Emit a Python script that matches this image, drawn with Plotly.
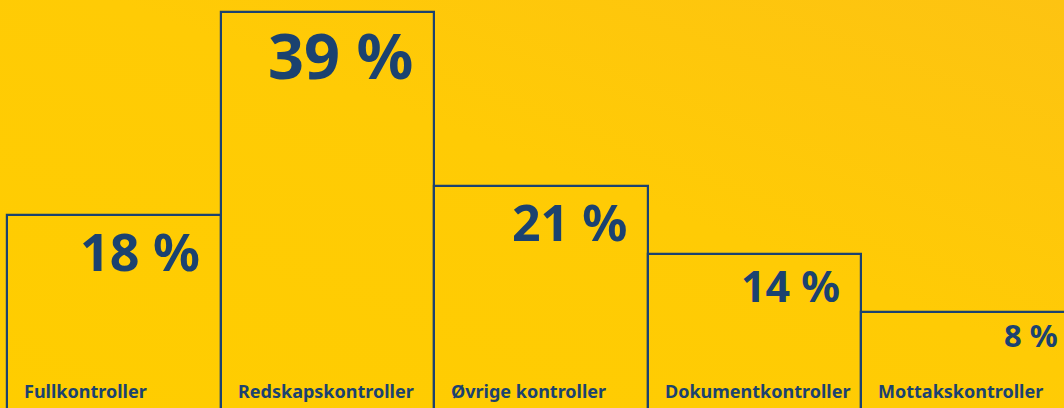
import plotly.graph_objects as go
import numpy as np

# data
categories = ["Fullkontroller", "Redskapskontroller", "Øvrige kontroller",
              "Dokumentkontroller", "Mottakskontroller"]
shares = [18, 39, 21, 14, 8]
value_labels = [f"{v} %" for v in shares]

# style
navy = "#1b4270"
pct_sizes = [52, 63, 50, 43, 31]
pct_pad = [-19, -19, -19, -19, -15]
pct_drop = [2, 2, 0, 0, 0]
bar_base = -4
x_range = [-0.533, 4.45]
y_range = [-1.96, 40.2]

bg_svg = (
    "data:image/svg+xml;utf8,"
    "<svg xmlns='http://www.w3.org/2000/svg' width='1064' height='408'>"
    "<defs><linearGradient id='g' x1='0' y1='1' x2='1' y2='0'>"
    "<stop offset='0' stop-color='%23FFCD00'/>"
    "<stop offset='0.55' stop-color='%23FFCB05'/>"
    "<stop offset='1' stop-color='%23FDC312'/>"
    "</linearGradient></defs>"
    "<rect width='1064' height='408' fill='url(%23g)'/></svg>"
)

x = np.arange(len(categories))
fig = go.Figure()
fig.add_trace(go.Bar(
    x=x, y=np.array(shares) - bar_base, base=bar_base,
    width=1,
    marker=dict(color="rgba(0,0,0,0)", line=dict(color=navy, width=2.2)),
    hoverinfo="skip",
    showlegend=False,
))

px_per_unit = 1064 / (x_range[1] - x_range[0])
for i, (v, txt, cat) in enumerate(zip(shares, value_labels, categories)):
    # bar right edge may lie outside the visible range (last bar)
    right = i + 0.5
    xa = min(right, x_range[1])
    extra = (right - xa) * px_per_unit
    fig.add_annotation(
        x=xa, y=v, xref="x", yref="y",
        text=f"<b>{txt}</b>", showarrow=False,
        xanchor="right", yanchor="top",
        xshift=pct_pad[i] + extra, yshift=pct_drop[i],
        font=dict(family="Noto Sans", size=pct_sizes[i], color=navy),
    )
    fig.add_annotation(
        x=i - 0.5, y=-0.2, xref="x", yref="y",
        text=f"<b>{cat}</b>", showarrow=False,
        xanchor="left", yanchor="middle",
        xshift=15,
        font=dict(family="Noto Sans", size=18, color=navy),
    )

fig.update_layout(
    width=1064, height=408,
    margin=dict(l=0, r=0, t=0, b=0),
    paper_bgcolor="#FFCC00",
    plot_bgcolor="rgba(0,0,0,0)",
    bargap=0,
    images=[dict(source=bg_svg, xref="paper", yref="paper", x=0, y=1,
                 sizex=1, sizey=1, sizing="stretch", layer="below",
                 xanchor="left", yanchor="top")],
)
fig.update_xaxes(range=x_range, visible=False, fixedrange=True)
fig.update_yaxes(range=y_range, visible=False, fixedrange=True)

fig.write_html("out.html", config={"displayModeBar": False},
               post_script="document.body.style.margin='0';")
